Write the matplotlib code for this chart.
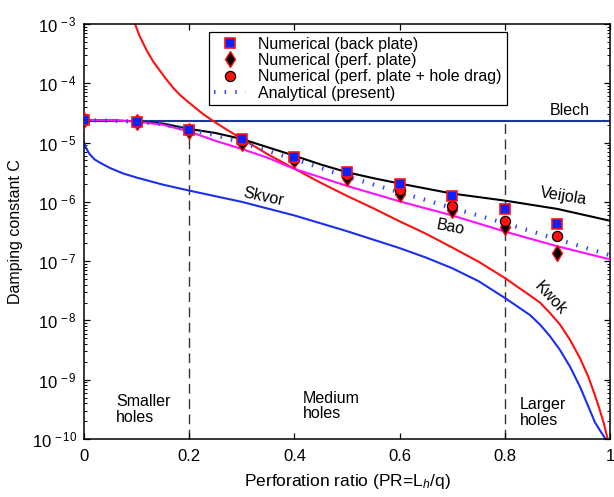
import matplotlib
matplotlib.use("Agg")
import matplotlib.pyplot as plt
import numpy as np
from matplotlib.ticker import FixedLocator, FuncFormatter, LogLocator, NullFormatter

plt.rcParams["font.family"] = ["Liberation Sans", "DejaVu Sans"]
plt.rcParams["mathtext.fontset"] = "custom"
plt.rcParams["mathtext.rm"] = "Liberation Sans"
plt.rcParams["mathtext.it"] = "Liberation Sans:italic"

# ---------------- data ----------------
pr_points = [0.0, 0.1, 0.2, 0.3, 0.4, 0.5, 0.6, 0.7, 0.8, 0.9]
c_back_plate = [2.40e-5, 2.24e-5, 1.66e-5, 1.135e-5, 5.75e-6, 3.24e-6, 2.0e-6, 1.26e-6, 7.6e-7, 4.2e-7]
c_perf_plate = [2.40e-5, 2.19e-5, 1.58e-5, 1.0e-5, 5.0e-6, 2.57e-6, 1.38e-6, 7.2e-7, 3.8e-7, 1.38e-7]
c_perf_hole_drag = [2.40e-5, 2.21e-5, 1.62e-5, 1.07e-5, 5.37e-6, 2.82e-6, 1.58e-6, 8.5e-7, 4.8e-7, 2.63e-7]

pr_analytical = [0.0, 0.1, 0.15, 0.2, 0.25, 0.3, 0.35, 0.4, 0.5, 0.6, 0.7, 0.8, 0.9, 1.0]
c_analytical = [2.40e-5, 2.26e-5, 2.04e-5, 1.66e-5, 1.33e-5, 1.0e-5, 7.2e-6, 5.25e-6,
                2.66e-6, 1.45e-6, 7.9e-7, 4.37e-7, 2.34e-7, 1.26e-7]

pr_blech = [0.0, 1.0]
c_blech = [2.35e-5, 2.35e-5]

pr_veijola = [0.0, 0.05, 0.1, 0.15, 0.2, 0.25, 0.3, 0.35, 0.4, 0.45, 0.5, 0.55, 0.6, 0.7, 0.8, 0.9, 1.0]
c_veijola = [2.40e-5, 2.37e-5, 2.29e-5, 2.09e-5, 1.70e-5, 1.45e-5, 1.15e-5, 8.3e-6, 6.0e-6,
             4.27e-6, 3.16e-6, 2.51e-6, 2.04e-6, 1.38e-6, 1.05e-6, 7.6e-7, 4.8e-7]

pr_bao = [0.0, 0.05, 0.1, 0.15, 0.2, 0.25, 0.3, 0.35, 0.4, 0.5, 0.6, 0.7, 0.8, 0.9, 1.0]
c_bao = [2.40e-5, 2.37e-5, 2.26e-5, 2.0e-5, 1.53e-5, 1.07e-5, 7.8e-6, 5.5e-6, 3.6e-6,
         1.86e-6, 1.02e-6, 5.9e-7, 3.16e-7, 1.78e-7, 1.07e-7]

pr_kwok = [0.097, 0.106, 0.119, 0.132, 0.145, 0.157, 0.170, 0.183, 0.195, 0.208, 0.227,
           0.246, 0.271, 0.297, 0.322, 0.35, 0.4, 0.45, 0.5, 0.55, 0.6, 0.65, 0.7, 0.75,
           0.8, 0.848, 0.867, 0.886, 0.905, 0.924, 0.943, 0.959, 0.9715, 0.981, 0.9886, 0.995]
c_kwok = [1.0e-3, 6.2e-4, 3.6e-4, 2.3e-4, 1.6e-4, 1.15e-4, 8.3e-5, 6.3e-5, 5.1e-5, 4.1e-5,
          3.0e-5, 2.3e-5, 1.66e-5, 1.2e-5, 8.9e-6, 6.3e-6, 3.63e-6, 2.1e-6, 1.26e-6,
          7.8e-7, 4.7e-7, 2.9e-7, 1.7e-7, 9.8e-8, 5.2e-8, 2.63e-8, 2.0e-8, 1.33e-8,
          8.5e-9, 4.7e-9, 2.3e-9, 1.11e-9, 5.4e-10, 3.0e-10, 1.78e-10, 1.05e-10]

pr_skvor = [0.0, 0.002, 0.005, 0.01, 0.02, 0.03, 0.05, 0.075, 0.1, 0.15, 0.2, 0.3, 0.4,
            0.5, 0.6, 0.65, 0.7, 0.75, 0.8, 0.848, 0.867, 0.886, 0.905, 0.924, 0.943,
            0.959, 0.9715, 0.982, 0.993]
c_skvor = [1.02e-5, 8.9e-6, 7.8e-6, 6.5e-6, 5.2e-6, 4.6e-6, 3.7e-6, 3.0e-6, 2.57e-6,
           1.95e-6, 1.55e-6, 1.0e-6, 5.9e-7, 3.2e-7, 1.66e-7, 1.15e-7, 7.6e-8, 4.6e-8,
           2.4e-8, 1.23e-8, 8.5e-9, 5.4e-9, 3.16e-9, 1.66e-9, 7.6e-10, 3.5e-10,
           1.9e-10, 1.35e-10, 9.5e-11]

region_bounds = [0.2, 0.8]
region_c_range = [1e-10, 2.1e-5]

x_ticks = [0, 0.2, 0.4, 0.6, 0.8, 1.0]
y_ticks = [1e-10, 1e-9, 1e-8, 1e-7, 1e-6, 1e-5, 1e-4, 1e-3]

# ---------------- figure ----------------
fig = plt.figure(figsize=(6.14, 4.97), dpi=100)
ax = fig.add_axes([0.1368, 0.1167, 0.8567, 0.835])
ax.set_yscale("log")
ax.set_xlim(0, 1)
ax.set_ylim(1e-10, 1e-3)

ax.vlines(region_bounds, region_c_range[0], region_c_range[1], colors="#333333",
          linestyles=(0, (7, 4)), linewidth=1.0, zorder=1)

ax.plot(pr_blech, c_blech, color="#1c3890", lw=1.5, zorder=2)
ax.plot(pr_skvor, c_skvor, color="#1a2ff0", lw=1.5, zorder=2)
ax.plot(pr_kwok, c_kwok, color="#ff1010", lw=1.5, zorder=2)
ax.plot(pr_veijola, c_veijola, color="black", lw=1.5, zorder=3)
ax.plot(pr_bao, c_bao, color="#ff10ff", lw=1.5, zorder=3)
ana, = ax.plot(pr_analytical, c_analytical, color="#2a46ff", lw=3.0,
               linestyle=(0, (0.35, 2.2)), dash_capstyle="butt", zorder=4,
               label="Analytical (present)")

dia, = ax.plot(pr_points, c_perf_plate, "d", ms=8, mfc="black", mec="#ff1010", mew=1.0,
               ls="none", zorder=5, label="Numerical (perf. plate)")
cir, = ax.plot(pr_points, c_perf_hole_drag, "o", ms=7.3, mfc="#ff1010", mec="black",
               mew=0.9, ls="none", zorder=6, label="Numerical (perf. plate + hole drag)")
sq, = ax.plot(pr_points, c_back_plate, "s", ms=6.5, mfc="#0a22ff", mec="#ff1010",
              mew=1.2, ls="none", zorder=7, label="Numerical (back plate)")

leg = ax.legend(handles=[sq, dia, cir, ana], loc="upper left",
                bbox_to_anchor=(0.2376, 0.981), fontsize=11.5, frameon=True,
                fancybox=False, framealpha=1, edgecolor="black", borderpad=0.3,
                labelspacing=0.08, handlelength=2.0, handletextpad=0.8,
                borderaxespad=0)
leg.get_frame().set_linewidth(0.9)

# curve names and size regions
fs = 11.5
ax.text(0.923, 10 ** -4.46, "Blech", fontsize=fs, ha="center", va="center")
ax.text(0.911, 10 ** -5.91, "Veijola", fontsize=fs, ha="center", va="center", rotation=-9)
ax.text(0.696, 10 ** -6.43, "Bao", fontsize=fs, ha="center", va="center", rotation=-11)
ax.text(0.340, 10 ** -5.91, "Skvor", fontsize=fs, ha="center", va="center", rotation=-12)
ax.text(0.887, 10 ** -7.63, "Kwok", fontsize=fs, ha="center", va="center", rotation=-47)
ax.text(0.0614, 10 ** -9.50, "Smaller\nholes", fontsize=fs, ha="left", va="center",
        linespacing=1.05)
ax.text(0.416, 10 ** -9.44, "Medium\nholes", fontsize=fs, ha="left", va="center",
        linespacing=1.05)
ax.text(0.828, 10 ** -9.55, "Larger\nholes", fontsize=fs, ha="left", va="center",
        linespacing=1.05)

# axes styling
ax.xaxis.set_major_locator(FixedLocator(x_ticks))
ax.xaxis.set_major_formatter(FuncFormatter(lambda v, p: "%g" % v))
ax.yaxis.set_major_locator(FixedLocator(y_ticks))
ax.yaxis.set_minor_locator(LogLocator(base=10, subs=np.arange(2, 10), numticks=20))
ax.yaxis.set_minor_formatter(NullFormatter())
ax.yaxis.set_major_formatter(
    FuncFormatter(lambda v, p: r"$\mathregular{10^{\,%d}}$" % round(np.log10(v))))

ax.tick_params(which="both", direction="in", top=True, right=True)
ax.tick_params(which="major", length=4, width=0.9, labelsize=12)
ax.tick_params(axis="x", which="major", pad=7)
ax.tick_params(axis="y", which="major", pad=5)
ax.tick_params(which="minor", length=2, width=0.7)
for s in ax.spines.values():
    s.set_linewidth(1.1)

ax.set_xlabel(r"Perforation ratio (PR=L$_h$/q)", fontsize=12.5, labelpad=6)
ax.set_ylabel("Damping constant C", fontsize=11.5, labelpad=6)

fig.savefig("out.png", dpi=100)
